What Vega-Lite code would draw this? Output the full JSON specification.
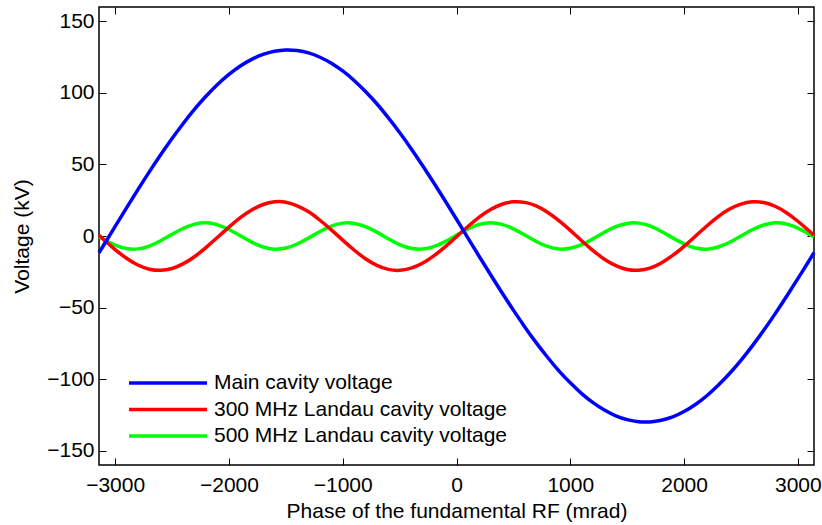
{
  "$schema": "https://vega.github.io/schema/vega-lite/v6.json",
  "width": 715,
  "height": 458,
  "autosize": {"type": "none"},
  "padding": {"left": 99, "top": 7, "right": 8, "bottom": 60},
  "background": "white",
  "config": {
    "font": "Liberation Sans",
    "view": {"stroke": "black", "strokeWidth": 1.5},
    "axis": {
      "domain": false,
      "grid": false,
      "tickColor": "black",
      "tickWidth": 1,
      "tickSize": -7,
      "labelColor": "black",
      "labelFontSize": 21,
      "titleColor": "black",
      "titleFontSize": 21,
      "titleFontWeight": "normal"
    }
  },
  "data": {
    "values": [
      {"phase": -3142, "Main cavity voltage": -11.7, "300 MHz Landau cavity voltage": 0.5, "500 MHz Landau cavity voltage": -0.6},
      {"phase": -3100, "Main cavity voltage": -6.3, "300 MHz Landau cavity voltage": -2.5, "500 MHz Landau cavity voltage": -2.5},
      {"phase": -3000, "Main cavity voltage": 6.7, "300 MHz Landau cavity voltage": -9.5, "500 MHz Landau cavity voltage": -6.4},
      {"phase": -2900, "Main cavity voltage": 19.6, "300 MHz Landau cavity voltage": -15.5, "500 MHz Landau cavity voltage": -8.8},
      {"phase": -2800, "Main cavity voltage": 32.4, "300 MHz Landau cavity voltage": -20.3, "500 MHz Landau cavity voltage": -9.0},
      {"phase": -2700, "Main cavity voltage": 44.8, "300 MHz Landau cavity voltage": -23.2, "500 MHz Landau cavity voltage": -7.0},
      {"phase": -2600, "Main cavity voltage": 56.7, "300 MHz Landau cavity voltage": -24.0, "500 MHz Landau cavity voltage": -3.3},
      {"phase": -2500, "Main cavity voltage": 68.1, "300 MHz Landau cavity voltage": -22.7, "500 MHz Landau cavity voltage": 1.2},
      {"phase": -2400, "Main cavity voltage": 78.8, "300 MHz Landau cavity voltage": -19.3, "500 MHz Landau cavity voltage": 5.4},
      {"phase": -2300, "Main cavity voltage": 88.8, "300 MHz Landau cavity voltage": -14.3, "500 MHz Landau cavity voltage": 8.3},
      {"phase": -2200, "Main cavity voltage": 97.8, "300 MHz Landau cavity voltage": -7.9, "500 MHz Landau cavity voltage": 9.2},
      {"phase": -2100, "Main cavity voltage": 105.9, "300 MHz Landau cavity voltage": -0.9, "500 MHz Landau cavity voltage": 7.8},
      {"phase": -2000, "Main cavity voltage": 112.9, "300 MHz Landau cavity voltage": 6.2, "500 MHz Landau cavity voltage": 4.5},
      {"phase": -1900, "Main cavity voltage": 118.8, "300 MHz Landau cavity voltage": 12.8, "500 MHz Landau cavity voltage": 0.1},
      {"phase": -1800, "Main cavity voltage": 123.4, "300 MHz Landau cavity voltage": 18.2, "500 MHz Landau cavity voltage": -4.3},
      {"phase": -1700, "Main cavity voltage": 126.9, "300 MHz Landau cavity voltage": 22.0, "500 MHz Landau cavity voltage": -7.7},
      {"phase": -1600, "Main cavity voltage": 129.1, "300 MHz Landau cavity voltage": 23.9, "500 MHz Landau cavity voltage": -9.2},
      {"phase": -1500, "Main cavity voltage": 130.0, "300 MHz Landau cavity voltage": 23.6, "500 MHz Landau cavity voltage": -8.4},
      {"phase": -1400, "Main cavity voltage": 129.6, "300 MHz Landau cavity voltage": 21.1, "500 MHz Landau cavity voltage": -5.6},
      {"phase": -1300, "Main cavity voltage": 127.9, "300 MHz Landau cavity voltage": 16.9, "500 MHz Landau cavity voltage": -1.4},
      {"phase": -1200, "Main cavity voltage": 124.9, "300 MHz Landau cavity voltage": 11.0, "500 MHz Landau cavity voltage": 3.1},
      {"phase": -1100, "Main cavity voltage": 120.7, "300 MHz Landau cavity voltage": 4.3, "500 MHz Landau cavity voltage": 6.9},
      {"phase": -1000, "Main cavity voltage": 115.3, "300 MHz Landau cavity voltage": -2.9, "500 MHz Landau cavity voltage": 9.0},
      {"phase": -900, "Main cavity voltage": 108.7, "300 MHz Landau cavity voltage": -9.8, "500 MHz Landau cavity voltage": 8.8},
      {"phase": -800, "Main cavity voltage": 101.0, "300 MHz Landau cavity voltage": -15.9, "500 MHz Landau cavity voltage": 6.6},
      {"phase": -700, "Main cavity voltage": 92.4, "300 MHz Landau cavity voltage": -20.5, "500 MHz Landau cavity voltage": 2.7},
      {"phase": -600, "Main cavity voltage": 82.7, "300 MHz Landau cavity voltage": -23.3, "500 MHz Landau cavity voltage": -1.9},
      {"phase": -500, "Main cavity voltage": 72.3, "300 MHz Landau cavity voltage": -24.0, "500 MHz Landau cavity voltage": -6.0},
      {"phase": -400, "Main cavity voltage": 61.2, "300 MHz Landau cavity voltage": -22.5, "500 MHz Landau cavity voltage": -8.6},
      {"phase": -300, "Main cavity voltage": 49.4, "300 MHz Landau cavity voltage": -19.1, "500 MHz Landau cavity voltage": -9.1},
      {"phase": -200, "Main cavity voltage": 37.2, "300 MHz Landau cavity voltage": -13.9, "500 MHz Landau cavity voltage": -7.4},
      {"phase": -100, "Main cavity voltage": 24.6, "300 MHz Landau cavity voltage": -7.6, "500 MHz Landau cavity voltage": -3.9},
      {"phase": 0, "Main cavity voltage": 11.7, "300 MHz Landau cavity voltage": -0.5, "500 MHz Landau cavity voltage": 0.6},
      {"phase": 100, "Main cavity voltage": -1.3, "300 MHz Landau cavity voltage": 6.6, "500 MHz Landau cavity voltage": 4.9},
      {"phase": 200, "Main cavity voltage": -14.3, "300 MHz Landau cavity voltage": 13.2, "500 MHz Landau cavity voltage": 8.1},
      {"phase": 300, "Main cavity voltage": -27.1, "300 MHz Landau cavity voltage": 18.5, "500 MHz Landau cavity voltage": 9.2},
      {"phase": 400, "Main cavity voltage": -39.7, "300 MHz Landau cavity voltage": 22.2, "500 MHz Landau cavity voltage": 8.1},
      {"phase": 500, "Main cavity voltage": -51.8, "300 MHz Landau cavity voltage": 23.9, "500 MHz Landau cavity voltage": 5.0},
      {"phase": 600, "Main cavity voltage": -63.5, "300 MHz Landau cavity voltage": 23.5, "500 MHz Landau cavity voltage": 0.7},
      {"phase": 700, "Main cavity voltage": -74.5, "300 MHz Landau cavity voltage": 21.0, "500 MHz Landau cavity voltage": -3.8},
      {"phase": 800, "Main cavity voltage": -84.7, "300 MHz Landau cavity voltage": 16.6, "500 MHz Landau cavity voltage": -7.3},
      {"phase": 900, "Main cavity voltage": -94.2, "300 MHz Landau cavity voltage": 10.7, "500 MHz Landau cavity voltage": -9.1},
      {"phase": 1000, "Main cavity voltage": -102.6, "300 MHz Landau cavity voltage": 3.9, "500 MHz Landau cavity voltage": -8.6},
      {"phase": 1100, "Main cavity voltage": -110.1, "300 MHz Landau cavity voltage": -3.3, "500 MHz Landau cavity voltage": -6.1},
      {"phase": 1200, "Main cavity voltage": -116.4, "300 MHz Landau cavity voltage": -10.2, "500 MHz Landau cavity voltage": -2.0},
      {"phase": 1300, "Main cavity voltage": -121.6, "300 MHz Landau cavity voltage": -16.2, "500 MHz Landau cavity voltage": 2.6},
      {"phase": 1400, "Main cavity voltage": -125.6, "300 MHz Landau cavity voltage": -20.7, "500 MHz Landau cavity voltage": 6.5},
      {"phase": 1500, "Main cavity voltage": -128.3, "300 MHz Landau cavity voltage": -23.4, "500 MHz Landau cavity voltage": 8.8},
      {"phase": 1600, "Main cavity voltage": -129.8, "300 MHz Landau cavity voltage": -23.9, "500 MHz Landau cavity voltage": 9.0},
      {"phase": 1700, "Main cavity voltage": -129.9, "300 MHz Landau cavity voltage": -22.4, "500 MHz Landau cavity voltage": 7.0},
      {"phase": 1800, "Main cavity voltage": -128.7, "300 MHz Landau cavity voltage": -18.8, "500 MHz Landau cavity voltage": 3.2},
      {"phase": 1900, "Main cavity voltage": -126.3, "300 MHz Landau cavity voltage": -13.6, "500 MHz Landau cavity voltage": -1.3},
      {"phase": 2000, "Main cavity voltage": -122.6, "300 MHz Landau cavity voltage": -7.2, "500 MHz Landau cavity voltage": -5.5},
      {"phase": 2100, "Main cavity voltage": -117.7, "300 MHz Landau cavity voltage": -0.1, "500 MHz Landau cavity voltage": -8.4},
      {"phase": 2200, "Main cavity voltage": -111.6, "300 MHz Landau cavity voltage": 7.0, "500 MHz Landau cavity voltage": -9.2},
      {"phase": 2300, "Main cavity voltage": -104.3, "300 MHz Landau cavity voltage": 13.5, "500 MHz Landau cavity voltage": -7.7},
      {"phase": 2400, "Main cavity voltage": -96.1, "300 MHz Landau cavity voltage": 18.8, "500 MHz Landau cavity voltage": -4.4},
      {"phase": 2500, "Main cavity voltage": -86.9, "300 MHz Landau cavity voltage": 22.3, "500 MHz Landau cavity voltage": 0.0},
      {"phase": 2600, "Main cavity voltage": -76.8, "300 MHz Landau cavity voltage": 23.9, "500 MHz Landau cavity voltage": 4.4},
      {"phase": 2700, "Main cavity voltage": -65.9, "300 MHz Landau cavity voltage": 23.4, "500 MHz Landau cavity voltage": 7.7},
      {"phase": 2800, "Main cavity voltage": -54.4, "300 MHz Landau cavity voltage": 20.8, "500 MHz Landau cavity voltage": 9.2},
      {"phase": 2900, "Main cavity voltage": -42.3, "300 MHz Landau cavity voltage": 16.3, "500 MHz Landau cavity voltage": 8.4},
      {"phase": 3000, "Main cavity voltage": -29.8, "300 MHz Landau cavity voltage": 10.3, "500 MHz Landau cavity voltage": 5.5},
      {"phase": 3100, "Main cavity voltage": -17.1, "300 MHz Landau cavity voltage": 3.5, "500 MHz Landau cavity voltage": 1.3},
      {"phase": 3142, "Main cavity voltage": -11.6, "300 MHz Landau cavity voltage": 0.5, "500 MHz Landau cavity voltage": -0.6}
    ]
  },
  "transform": [
    {"fold": ["500 MHz Landau cavity voltage", "300 MHz Landau cavity voltage", "Main cavity voltage"], "as": ["series", "voltage"]}
  ],
  "layer": [
    {
      "mark": {"type": "line", "strokeWidth": 3.5, "interpolate": "natural"},
      "encoding": {
        "x": {
          "field": "phase", "type": "quantitative",
          "scale": {"domain": [-3142, 3142], "nice": false, "zero": false},
          "axis": {"orient": "bottom", "values": [-3000, -2000, -1000, 0, 1000, 2000, 3000], "format": "d", "labelPadding": 16, "title": "Phase of the fundamental RF (mrad)", "titlePadding": 5}
        },
        "y": {
          "field": "voltage", "type": "quantitative",
          "scale": {"domain": [-160, 160], "nice": false},
          "axis": {"orient": "left", "values": [-150, -100, -50, 0, 50, 100, 150], "format": "d", "labelPadding": 12, "title": "Voltage (kV)", "titlePadding": 14}
        },
        "color": {
          "field": "series", "type": "nominal",
          "scale": {"domain": ["Main cavity voltage", "300 MHz Landau cavity voltage", "500 MHz Landau cavity voltage"], "range": ["#0000ff", "#ff0000", "#00ff00"]},
          "legend": {
            "title": null, "orient": "none", "legendX": 54, "legendY": 361, "padding": 0,
            "rowPadding": 1.5, "labelOffset": 31, "symbolType": "M-3,0H3", "symbolSize": 676,
            "symbolStrokeWidth": 3.5, "labelFontSize": 21, "labelLimit": 400, "labelColor": "black",
            "strokeColor": null
          }
        }
      }
    },
    {
      "mark": {"type": "line", "opacity": 0},
      "encoding": {
        "x": {"field": "phase", "type": "quantitative", "axis": {"orient": "top", "values": [-3000, -2000, -1000, 0, 1000, 2000, 3000], "labels": false, "title": null}},
        "y": {"field": "voltage", "type": "quantitative", "axis": {"orient": "right", "values": [-150, -100, -50, 0, 50, 100, 150], "labels": false, "title": null}},
        "detail": {"field": "series"}
      }
    }
  ],
  "resolve": {"axis": {"x": "independent", "y": "independent"}}
}
